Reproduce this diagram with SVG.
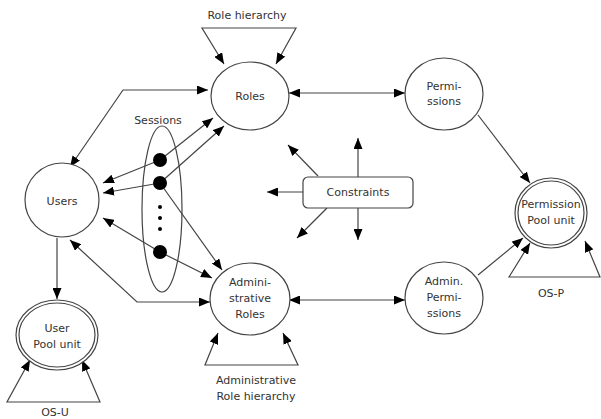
<svg xmlns="http://www.w3.org/2000/svg" width="601" height="419" viewBox="0 0 601 419">
<style>
.n{fill:#fff;stroke:#444;stroke-width:1.2}
.t{font-family:"DejaVu Sans",Verdana,sans-serif;font-size:11px;fill:#333;text-anchor:middle}
.c{fill:none;stroke:#444;stroke-width:1.2}
.a{marker-end:url(#ah)}
.b{marker-start:url(#ah);marker-end:url(#ah)}
.dot{fill:#000}
</style>
<defs>
<marker id="ah" markerUnits="userSpaceOnUse" markerWidth="11" markerHeight="9" refX="11" refY="4.5" orient="auto-start-reverse" viewBox="0 0 11 9">
<path d="M0,0 L11,4.5 L0,9 z" fill="#000"/>
</marker>
</defs>
<rect width="601" height="419" fill="#fff"/>
<g id="connectors">
<!-- hierarchies -->
<path class="c" d="M224,64 L202,28 L296,28 L276,64" marker-start="url(#ah)" marker-end="url(#ah)"/>
<path class="c" d="M218,333 L205,365 L298,365 L283,333" marker-start="url(#ah)" marker-end="url(#ah)"/>
<path class="c" d="M30,360 L7,402 L100,402 L82,360" marker-start="url(#ah)" marker-end="url(#ah)"/>
<path class="c" d="M530,243 L509,277 L600,277 L585,241" marker-start="url(#ah)" marker-end="url(#ah)"/>
<!-- roles-permissions -->
<line class="c b" x1="289" y1="93" x2="405" y2="93"/>
<line class="c b" x1="289" y1="300" x2="405" y2="300"/>
<line class="c a" x1="478" y1="115" x2="530" y2="183"/>
<line class="c a" x1="478" y1="275" x2="523" y2="238"/>
<!-- users -->
<path class="c b" d="M70,167 L123,90 L208,90"/>
<path class="c b" d="M70,240 L137,302 L210,302"/>
<line class="c a" x1="57" y1="238" x2="57" y2="299"/>
<!-- sessions -->
<line class="c a" x1="160" y1="160" x2="213" y2="118"/>
<line class="c a" x1="160" y1="183" x2="224" y2="126"/>
<line class="c a" x1="160" y1="160" x2="103" y2="183"/>
<line class="c a" x1="160" y1="183" x2="103" y2="193"/>
<line class="c a" x1="160" y1="183" x2="222" y2="270"/>
<line class="c a" x1="160" y1="252" x2="103" y2="218"/>
<line class="c a" x1="160" y1="252" x2="212" y2="278"/>
<!-- constraints -->
<line class="c a" x1="358" y1="177" x2="358" y2="138"/>
<line class="c a" x1="358" y1="208" x2="358" y2="240"/>
<line class="c a" x1="303" y1="192" x2="267" y2="192"/>
<line class="c a" x1="318" y1="176" x2="288" y2="145"/>
<line class="c a" x1="327" y1="208" x2="297" y2="238"/>
</g>
<g id="role-hierarchy"><text class="t" x="247" y="19">Role hierarchy</text></g>
<g id="roles">
<ellipse class="n" cx="250" cy="96" rx="39" ry="34"/>
<text class="t" x="250" y="100">Roles</text>
</g>
<g id="permissions">
<ellipse class="n" cx="444" cy="94" rx="39" ry="36"/>
<text class="t" x="444" y="90">Permi-</text>
<text class="t" x="444" y="105">ssions</text>
</g>
<g id="permission-pool">
<ellipse class="n" cx="551" cy="213" rx="36" ry="35"/>
<ellipse class="n" cx="551" cy="213" rx="33" ry="32"/>
<text class="t" x="551" y="208">Permission</text>
<text class="t" x="551" y="224">Pool unit</text>
</g>
<g id="os-p"><text class="t" x="551" y="297">OS-P</text></g>
<g id="admin-permissions">
<ellipse class="n" cx="444" cy="298" rx="39" ry="36"/>
<text class="t" x="444" y="285">Admin.</text>
<text class="t" x="444" y="301">Permi-</text>
<text class="t" x="444" y="317">ssions</text>
</g>
<g id="admin-roles">
<ellipse class="n" cx="250" cy="299" rx="40" ry="36"/>
<text class="t" x="250" y="286">Admini-</text>
<text class="t" x="250" y="302">strative</text>
<text class="t" x="250" y="318">Roles</text>
</g>
<g id="admin-role-hierarchy">
<text class="t" x="256" y="384">Administrative</text>
<text class="t" x="256" y="400">Role hierarchy</text>
</g>
<g id="users">
<ellipse class="n" cx="62" cy="200" rx="37" ry="37"/>
<text class="t" x="62" y="205">Users</text>
</g>
<g id="user-pool">
<ellipse class="n" cx="57" cy="335" rx="41" ry="35"/>
<ellipse class="n" cx="57" cy="335" rx="38" ry="32"/>
<text class="t" x="57" y="332">User</text>
<text class="t" x="57" y="348">Pool unit</text>
</g>
<g id="os-u"><text class="t" x="55" y="416">OS-U</text></g>
<g id="sessions">
<ellipse cx="162" cy="209" rx="20" ry="83" fill="none" stroke="#444" stroke-width="1.2"/>
<text class="t" x="158" y="124">Sessions</text>
<circle class="dot" cx="160" cy="160" r="7"/>
<circle class="dot" cx="160" cy="183" r="7"/>
<circle class="dot" cx="160" cy="252" r="7"/>
<circle class="dot" cx="160" cy="207" r="2"/>
<circle class="dot" cx="160" cy="218" r="2"/>
<circle class="dot" cx="160" cy="229" r="2"/>
</g>
<g id="constraints">
<rect x="303" y="177" width="110" height="31" rx="5" fill="#fff" stroke="#444" stroke-width="1.2"/>
<text class="t" x="358" y="196">Constraints</text>
</g>
</svg>
